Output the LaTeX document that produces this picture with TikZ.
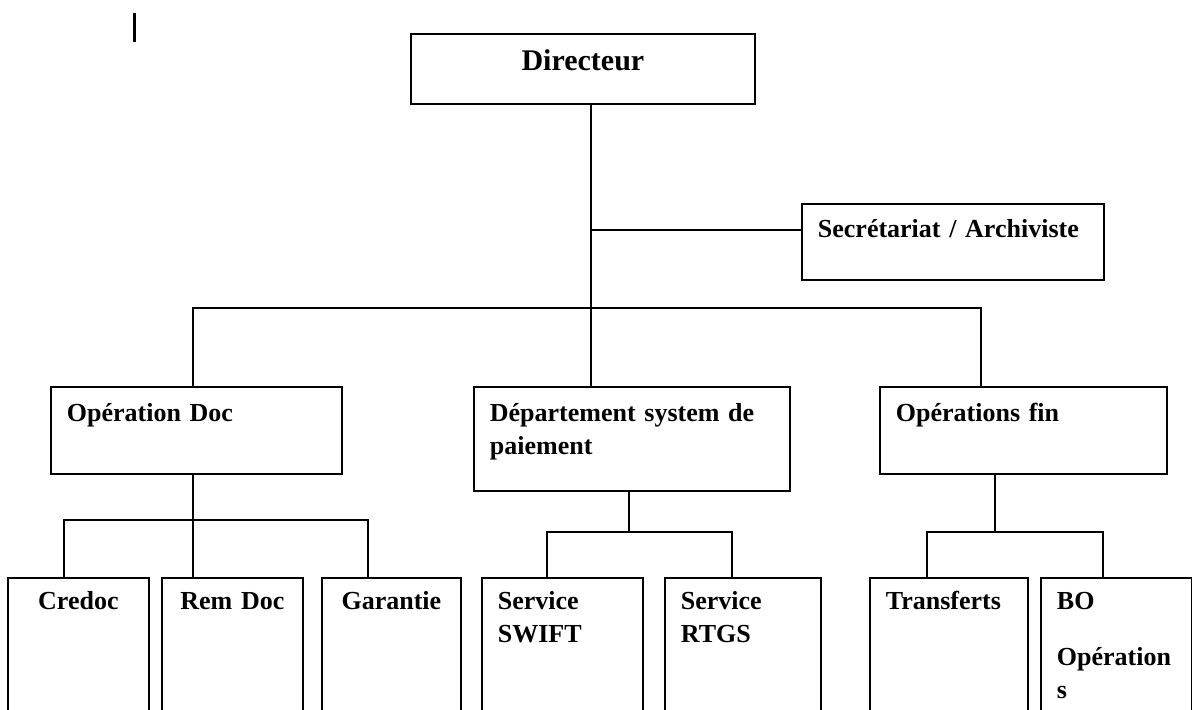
\documentclass[tikz,border=0pt]{standalone}
\usepackage{fontspec}
\setmainfont{Liberation Serif}
\usetikzlibrary{positioning}
\tikzstyle{unit}    = [rectangle, draw, line width=0.9pt, anchor=north west, inner xsep=8pt, inner ysep=0pt, font=\bfseries\fontsize{13}{16.5}\selectfont, align=left]
\tikzstyle{headbox} = [unit, align=center, font=\bfseries\fontsize{15}{18}\selectfont, text height=18.5pt, text depth=16.5pt]
\tikzstyle{midbox}  = [unit, text height=17.5pt, text depth=26pt]
\tikzstyle{leafbox} = [unit, text height=16pt, text depth=70pt]
\tikzstyle{line}    = [draw, line width=0.9pt]

\begin{document}
\begin{tikzpicture}[x=0.5pt, y=0.5pt]
        \clip (0,0) rectangle (1192,-709);
        % top of the chart
        \node [headbox, text width=156pt] (dir) at (410,-33) {Directeur};
        \node [unit, text width=135pt, text height=17pt, text depth=21pt] (sec) at (801,-203) {Secrétariat / Archiviste};
        \node [midbox, text width=129.5pt] (opdoc) at (50,-386) {Opération Doc};
        \node [midbox, text width=142pt, text depth=34.5pt] (dept) at (473,-386) {Département system de\\paiement};
        \node [midbox, text width=127.5pt] (opfin) at (879,-386) {Opérations fin};

        % services
        \node [leafbox, align=center, text width=54.5pt] (credoc) at (7,-577) {Credoc};
        \node [leafbox, align=center, text width=54.5pt, right=5.6pt of credoc.north east, anchor=north west] (remdoc) {Rem Doc};
        \node [leafbox, align=center, text width=53.5pt, right=8.6pt of remdoc.north east, anchor=north west] (garantie) {Garantie};
        \node [leafbox, text width=64.5pt, right=9.6pt of garantie.north east, anchor=north west] (swift) {Service\\SWIFT};
        \node [leafbox, text width=62pt, right=10.1pt of swift.north east, anchor=north west] (rtgs) {Service\\RTGS};
        \node [leafbox, text width=63pt] (transferts) at (869,-577) {Transferts};
        \node [leafbox, text width=59.5pt, right=5.6pt of transferts.north east, anchor=north west] (bo) {BO\\[11.5pt]Opération\\s};

        \coordinate (bus0) at (591,-308);
        \coordinate (busL) at (193,-308);
        \coordinate (busR) at (981,-308);
        \coordinate (secjoin) at (591,-230);
        \coordinate (subA) at (193,-520);
        \coordinate (subAl) at (64,-520);
        \coordinate (subAr) at (368,-520);
        \coordinate (subB) at (629,-532);
        \coordinate (subBl) at (547,-532);
        \coordinate (subBr) at (732,-532);
        \coordinate (subC) at (995,-532);
        \coordinate (subCl) at (927,-532);
        \coordinate (subCr) at (1103,-532);
        \coordinate (cursortop) at (134,-13);
        \coordinate (cursorbot) at (134,-42);

        \path [line] (dir.south -| bus0) -- (dept.north -| bus0);
        \path [line] (secjoin) -- (secjoin -| sec.west);
        \path [line] (opdoc.north -| busL) -- (busL) -- (busR) -- (opfin.north -| busR);
        \path [line] (opdoc.south -| subA) -- (remdoc.north -| subA);
        \path [line] (credoc.north -| subAl) -- (subAl) -- (subAr) -- (garantie.north -| subAr);
        \path [line] (dept.south -| subB) -- (subB);
        \path [line] (swift.north -| subBl) -- (subBl) -- (subBr) -- (rtgs.north -| subBr);
        \path [line] (opfin.south -| subC) -- (subC);
        \path [line] (transferts.north -| subCl) -- (subCl) -- (subCr) -- (bo.north -| subCr);
        \path [line, line width=1.5pt] (cursortop) -- (cursorbot);
      \end{tikzpicture}
\end{document}
